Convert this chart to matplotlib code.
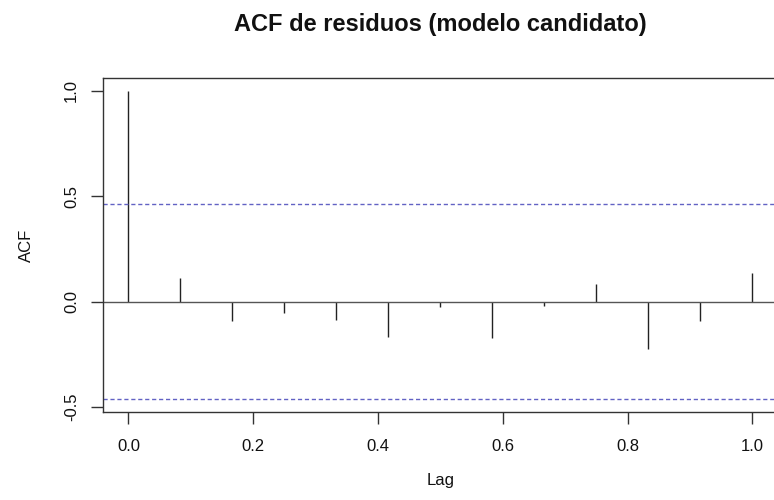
import matplotlib
matplotlib.use("Agg")
import matplotlib.pyplot as plt
import numpy as np

plt.rcParams['font.family'] = ['Liberation Sans', 'DejaVu Sans']

# Data
lags = [0/12, 1/12, 2/12, 3/12, 4/12, 5/12, 6/12, 7/12, 8/12, 9/12, 10/12, 11/12, 12/12]
acf_values = [1.0, 0.111, -0.091, -0.055, -0.087, -0.166, -0.028, -0.171,
              -0.020, 0.082, -0.223, -0.091, 0.137]
conf_limit = 0.462
xticks = [0.0, 0.2, 0.4, 0.6, 0.8, 1.0]
xtick_labels = ["0.0", "0.2", "0.4", "0.6", "0.8", "1.0"]
yticks = [-0.5, 0.0, 0.5, 1.0]
ytick_labels = ["-0.5", "0.0", "0.5", "1.0"]

W, H = 774, 500
fig = plt.figure(figsize=(W / 100, H / 100), dpi=100)
left, right, bottom, top = 103.5, 777.3, 411.7, 78.3
ax = fig.add_axes([left / W, 1 - bottom / H, (right - left) / W, (bottom - top) / H])

ax.vlines(lags, 0, acf_values, colors='#222222', linewidth=1.0)
ax.axhline(0, color='#555555', linewidth=1.0)
ax.axhline(conf_limit, color='#6262c4', linewidth=1.0, linestyle=(0, (3, 2)))
ax.axhline(-conf_limit, color='#6262c4', linewidth=1.0, linestyle=(0, (3, 2)))

ax.set_xlim(-0.04, 1.04)
ax.set_ylim(-0.5226, 1.0586)

ax.set_xticks(xticks)
ax.set_xticklabels(xtick_labels)
ax.set_yticks(yticks)
ax.set_yticklabels(ytick_labels, rotation=90, va='center')

for s in ax.spines.values():
    s.set_color('#333333')
    s.set_linewidth(1.0)

ax.tick_params(axis='both', direction='out', length=8.6, width=1.0, color='#333333',
               labelsize=12, labelcolor='#111111')
ax.tick_params(axis='x', pad=11)
ax.tick_params(axis='y', pad=9)

ax.set_xlabel("Lag", fontsize=12, color='#111111', labelpad=14)
ax.set_ylabel("ACF", fontsize=12, color='#111111', labelpad=22)

fig.text(440 / W, 1 - 25 / H, "ACF de residuos (modelo candidato)", ha='center', va='center',
         fontsize=17, fontweight='bold', color='#111111')

fig.savefig("out.png", dpi=100)
